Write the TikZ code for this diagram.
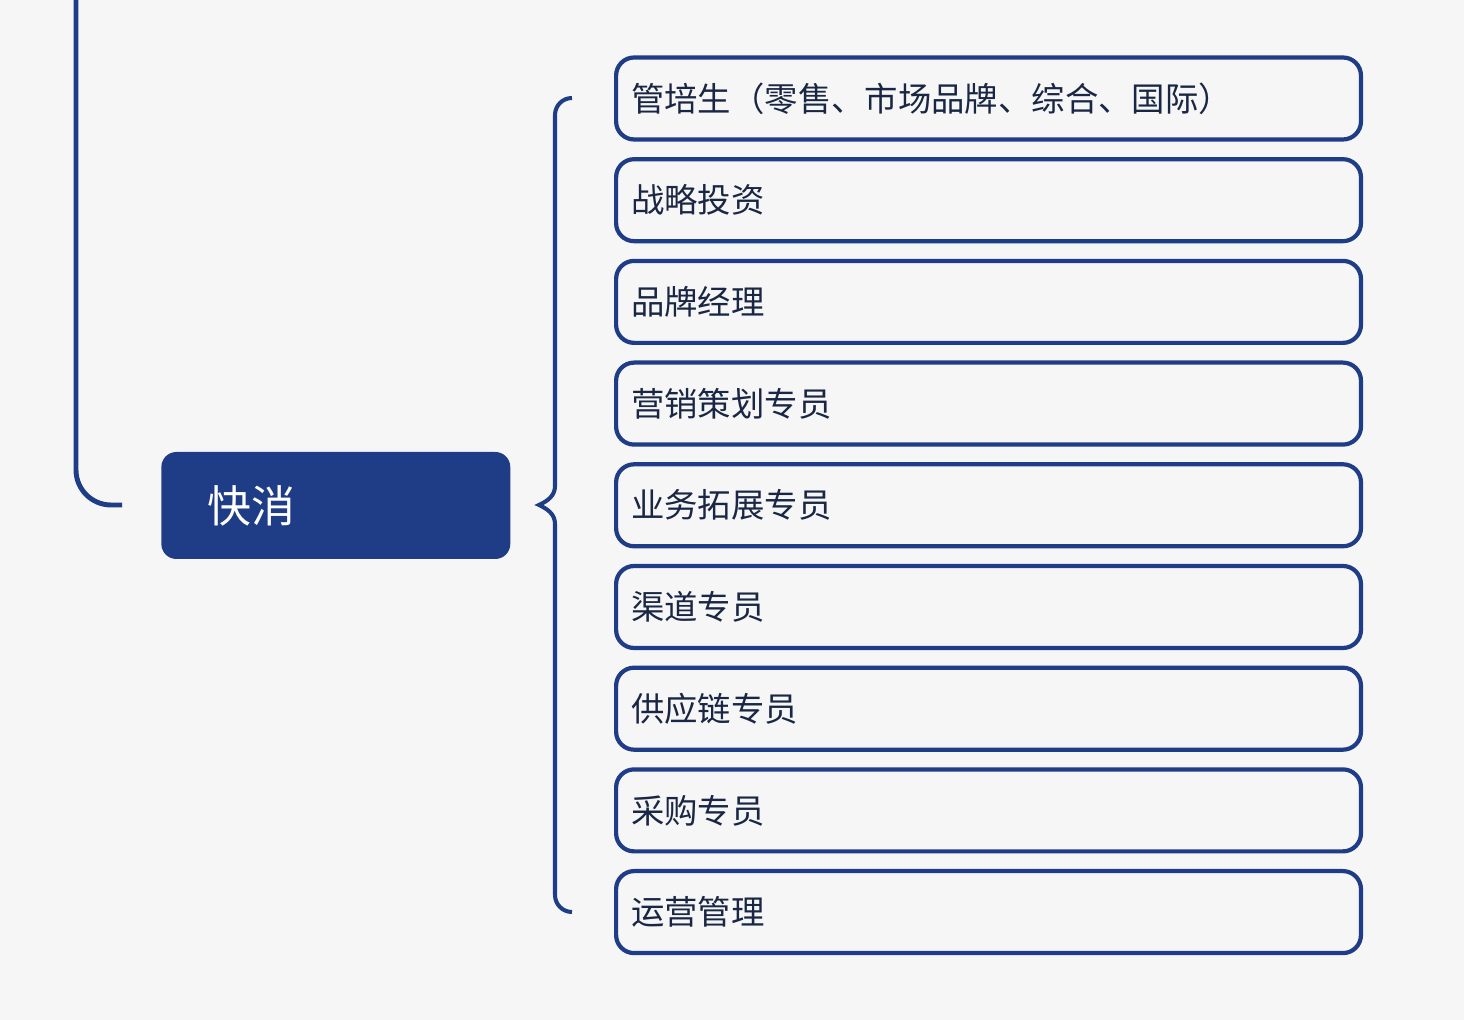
\documentclass[tikz,border=0pt]{standalone}
\usepackage{fontspec}
\setmainfont{Noto Sans CJK SC}
\definecolor{navy}{HTML}{1F3D87}
\definecolor{ink}{HTML}{1A2744}
\definecolor{paper}{HTML}{F6F6F6}

\tikzset{
    jobbox/.style={draw=navy, line width=2.4pt, rounded corners=0.36cm, anchor=west,
        minimum width=14.90cm, minimum height=1.64cm, text width=14.30cm, align=left,
        inner xsep=0.30cm, text=ink, font=\fontsize{19}{22}\selectfont},
    sectorbox/.style={fill=navy, rounded corners=0.3cm, anchor=west,
        minimum width=6.98cm, minimum height=2.14cm, text width=5.14cm, align=left,
        inner xsep=0.92cm, text=white, font=\fontsize{25}{30}\selectfont}
}

\begin{document}
\begin{tikzpicture}[x=0.02cm, y=0.02cm]
    % Background and picture size
    \fill[paper] (0,0) rectangle (1464,1020);
    \useasboundingbox (0,0) rectangle (1464,1020);

    % Sector node
    \node[sectorbox] (fmcg) at (161,514.5) {快消};

    % Line coming down from the parent
    \coordinate (top) at (76,1025);
    \coordinate (lineend) at (122,515);
    \draw[navy, line width=2.8pt, rounded corners=0.7cm] (top) |- (lineend);

    % Brace
    \draw[navy, line width=2.3pt]
        (572,922) to[out=180, in=90] (555,905) -- (555,534)
        to[out=-90, in=25] (539,515) to[out=-25, in=90] (555,496)
        -- (555,125) to[out=-90, in=180] (572,108);

    % Job boxes
    \foreach \job [count=\i] in {管培生（零售、市场品牌、综合、国际）, 战略投资, 品牌经理,
        营销策划专员, 业务拓展专员, 渠道专员, 供应链专员, 采购专员, 运营管理} {
        \node[jobbox] (job\i) at (614,{1020-98.5-(\i-1)*101.7}) {\job};
    }
\end{tikzpicture}
\end{document}
